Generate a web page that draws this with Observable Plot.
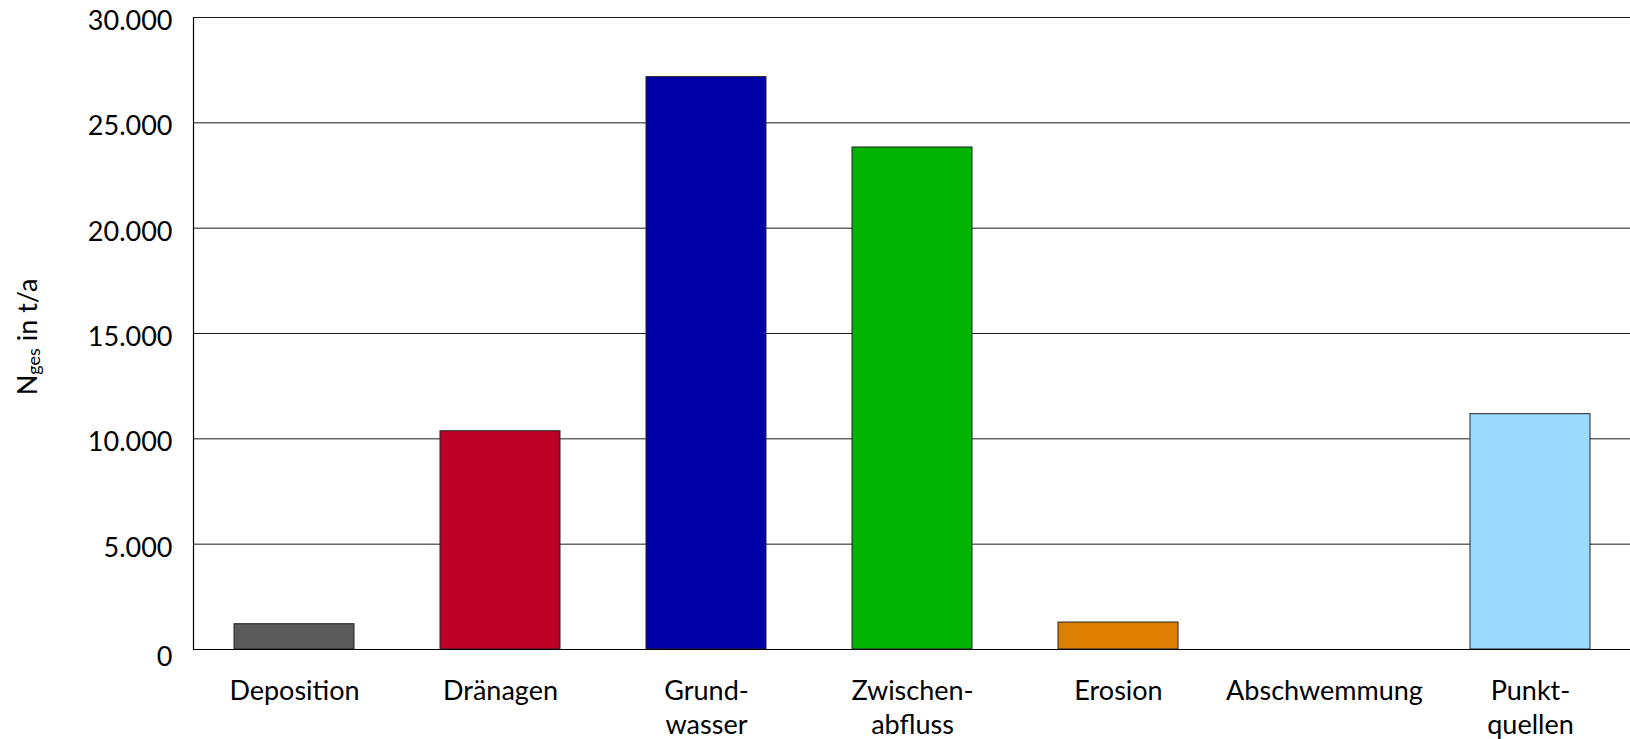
<!DOCTYPE html>
<html>
<head>
<meta charset="utf-8">
<script src="https://cdn.jsdelivr.net/npm/d3@7"></script>
<script src="https://cdn.jsdelivr.net/npm/@observablehq/plot@0.6"></script>
<style>
  html, body { margin: 0; padding: 0; background: #fff; }
  #chart svg { display: block; }
</style>
</head>
<body>
<div id="chart"></div>
<script>
// ---- data ----
const categories = ["Deposition", "Dränagen", "Grund-\nwasser", "Zwischen-\nabfluss", "Erosion", "Abschwemmung", "Punkt-\nquellen"];
const values = [1200, 10360, 27170, 23830, 1280, 0, 11170];
const barColors = ["#5b5b5b", "#be0027", "#0000a9", "#00b300", "#dd7f00", "#ffffff", "#9bd9ff"];
const yTicks = [0, 5000, 10000, 15000, 20000, 25000, 30000];
const yTitleMain = "N";
const yTitleSub = "ges";
const yTitleRest = " in t/a";

const data = categories.map((c, i) => ({category: c, value: values[i], color: barColors[i]}));
const fmt = d3.formatLocale({decimal: ",", thousands: ".", grouping: [3], currency: ["", "€"]}).format(",");

const W = 1630, H = 739;
const chart = Plot.plot({
  width: W,
  height: H,
  marginLeft: 193,
  marginRight: 0,
  marginTop: 17,
  marginBottom: 90,
  style: {fontFamily: "Lato, sans-serif", color: "#000", background: "#fff"},
  x: {domain: categories, range: [191, 1634], paddingInner: 0.416, paddingOuter: 0.208, axis: null},
  y: {domain: [0, 30000], range: [649, 17], axis: null},
  marks: [
    Plot.ruleY(yTicks.filter(d => d > 0), {stroke: "#1a1a1a", strokeWidth: 1}),
    Plot.barY(data.filter(d => d.value > 0), {x: "category", y: "value", fill: "color", stroke: "#222", strokeWidth: 1}),
    Plot.ruleY([0], {stroke: "#000", strokeWidth: 1.2}),
    Plot.frame({anchor: "left", stroke: "#000", strokeWidth: 1.2}),
    Plot.axisY(yTicks.filter(d => d > 0), {tickSize: 0, tickPadding: 21, fontSize: 27, tickFormat: fmt, dy: 4, label: null}),
    Plot.axisY([0], {tickSize: 0, tickPadding: 21, fontSize: 27, tickFormat: fmt, dy: 8, label: null}),
    Plot.axisX({tickSize: 0, tickPadding: 26, fontSize: 27, lineHeight: 1.27, label: null})
  ]
});
document.getElementById("chart").appendChild(chart);

// y-axis title with subscript
const svg = d3.select(chart);
const t = svg.append("text")
  .attr("transform", "translate(36.5,337) rotate(-90)")
  .attr("text-anchor", "middle")
  .attr("font-family", "Lato, sans-serif")
  .attr("font-size", 27)
  .attr("fill", "#000");
t.append("tspan").text(yTitleMain);
t.append("tspan").attr("font-size", 18).attr("dy", 3).text(yTitleSub);
t.append("tspan").attr("dy", -3).text(yTitleRest);
</script>
</body>
</html>
